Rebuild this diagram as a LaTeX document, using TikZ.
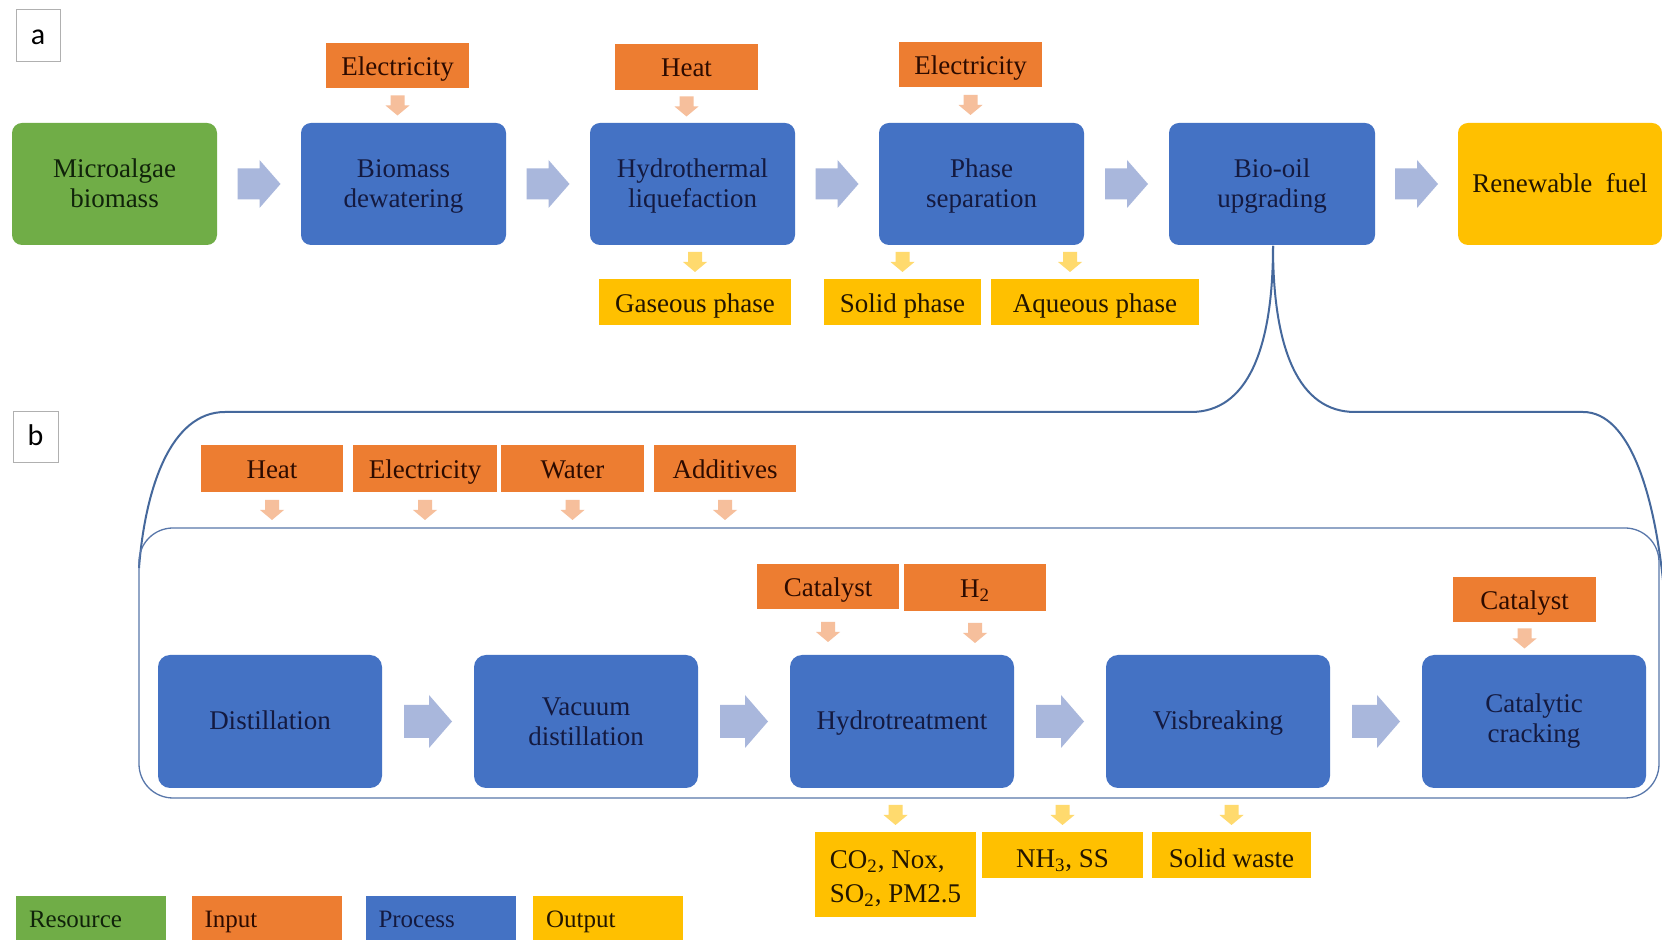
\documentclass[tikz,border=0pt]{standalone}
\usepackage{fontspec}
\setmainfont{Liberation Serif}
\newfontfamily\lblfont{Carlito}
\usetikzlibrary{calc}
\definecolor{cgreen}{HTML}{70AD47}
\definecolor{corange}{HTML}{ED7D31}
\definecolor{cblue}{HTML}{4472C4}
\definecolor{cgold}{HTML}{FFC000}
\definecolor{carrow}{HTML}{A9B7DC}
\definecolor{cinarr}{HTML}{F6BF9C}
\definecolor{coutarr}{HTML}{FFDA6E}
\definecolor{cline}{HTML}{45689C}
\definecolor{cframe}{HTML}{5877AA}
\definecolor{cnavy}{HTML}{141A40}
\definecolor{cdgreen}{HTML}{10230A}
\definecolor{cdred}{HTML}{2D0B00}
\definecolor{cdark}{HTML}{221500}
\definecolor{cgrey}{HTML}{B0B0B0}
\newcommand{\mybox}[7]{\node[#1, minimum width={(#5-#3)*0.5pt}, minimum height={(#6-#4)*0.5pt}] (#2) at ({(#3+#5)/2},{(#4+#6)/2}) {#7};}
\newcommand{\sarr}[4]{%
  \path ($(#3)!0.5!(#4)$) coordinate (sm);
  \fill[#1, shift={(#2 |- sm)}] (-7,-10) -- (7,-10) -- (7,0) -- (12,0) -- (0,10) -- (-12,0) -- (-7,0) -- cycle;}
\newcommand{\barr}[6]{%
  \path (#1.east) -- (#2.west) coordinate[pos=0.5] (bm);
  \fill[bigarr, shift={(bm)}] ({-#3/2},-#4) -- ({#3/2-#6},-#4) -- ({#3/2-#6},-#5) -- ({#3/2},0) -- ({#3/2-#6},#5) -- ({#3/2-#6},#4) -- ({-#3/2},#4) -- cycle;}
\begin{document}
\begin{tikzpicture}[x=0.5pt,y=-0.5pt,
  base/.style={inner sep=0pt, outer sep=0pt, align=center, font=\fontsize{13.5}{15}\selectfont},
  oneline/.style={text height=#1, text depth=0.24em},
  oneline/.default=1.21em,
  proc/.style={base, fill=cblue, rounded corners=5pt, text=cnavy, text depth=0.05em},
  procb/.style={base, fill=cblue, rounded corners=6pt, text=cnavy},
  res/.style={base, fill=cgreen, rounded corners=5pt, text=cdgreen, text depth=0.05em},
  fuelb/.style={base, oneline=1.06em, fill=cgold, rounded corners=5pt, text=cdark},
  inp/.style={base, oneline, fill=corange, text=cdred},
  outp/.style={base, oneline, fill=cgold, text=cdark},
  lbl/.style={inner sep=0pt, draw=cgrey, fill=white, line width=0.5pt, text height=0.95em, text depth=0.14em, font=\lblfont\fontsize{15}{17}\selectfont},
  leg/.style={inner ysep=0pt, inner xsep=6.5pt, outer sep=0pt, align=left, text width=62pt, text height=1.24em, text depth=0.24em, font=\fontsize{12.5}{14}\selectfont},
  bigarr/.style={fill=carrow},
  inarr/.style={fill=cinarr},
  outarr/.style={fill=coutarr},
  brace/.style={draw=cline, line width=1pt},
  frame/.style={draw=cframe, line width=0.65pt, rounded corners=17pt, inner sep=0pt, outer sep=0pt}]
\fill[white] (0,0) rectangle (1662,940);
\useasboundingbox (0,0) rectangle (1662,940);
% labels
\mybox{lbl}{la}{16}{10}{60}{62}{a}
\mybox{lbl}{lb}{13}{412}{58}{463}{b}
% part a processes
\mybox{res}{micro}{12}{123}{217}{245}{Microalgae\\biomass}
\mybox{proc}{dew}{301}{123}{506}{245}{Biomass\\dewatering}
\mybox{proc}{htl}{590}{123}{795}{245}{Hydrothermal\\liquefaction}
\mybox{proc}{phase}{879}{123}{1084}{245}{Phase\\separation}
\mybox{proc}{bio}{1169}{123}{1375}{245}{Bio-oil\\upgrading}
\mybox{fuelb}{fuel}{1458}{123}{1662}{245}{Renewable~~fuel}
% part a inputs / outputs
\mybox{inp}{ea}{326}{43}{469}{88}{Electricity}
\mybox{inp}{ha}{615}{44}{758}{90}{Heat}
\mybox{inp}{eb}{899}{42}{1042}{87}{Electricity}
\mybox{outp, oneline=1.3em}{gas}{599}{279}{791}{325}{Gaseous phase}
\mybox{outp, oneline=1.3em}{solid}{824}{279}{981}{325}{Solid phase}
\mybox{outp, oneline=1.3em}{aq}{991}{279}{1199}{325}{Aqueous phase}
% big arrows a
\barr{micro}{dew}{43}{15.5}{24}{21}
\barr{dew}{htl}{43}{15.5}{24}{21}
\barr{htl}{phase}{43}{15.5}{24}{21}
\barr{phase}{bio}{43}{15.5}{24}{21}
\barr{bio}{fuel}{43}{15.5}{24}{21}
% small arrows a
\coordinate (aqx) at (1070,0);
\sarr{inarr}{ea.south}{ea.south}{dew.north}
\sarr{inarr}{ha.south}{ha.south}{htl.north}
\sarr{inarr}{eb.south}{eb.south}{phase.north}
\sarr{outarr}{gas.north}{htl.south}{gas.north}
\sarr{outarr}{solid.north}{phase.south}{solid.north}
\sarr{outarr}{aqx}{phase.south}{aq.north}
% brace
\coordinate (tip) at (1273,246);
\draw[brace] (tip) .. controls (1273,350) and (1247,412) .. (1191,412) -- (225,412) .. controls (170,412) and (145,490) .. (139,568);
\draw[brace] (tip) .. controls (1273,350) and (1299,412) .. (1355,412) -- (1583,412) .. controls (1630,412) and (1655,495) .. (1664,590);
% part b frame
\mybox{frame}{inner}{139}{528}{1659}{798}{}
% part b inputs
\mybox{inp}{hb}{201}{445}{343}{492}{Heat}
\mybox{inp}{elb}{353}{445}{497}{492}{Electricity}
\mybox{inp}{wat}{501}{445}{644}{492}{Water}
\mybox{inp}{add}{654}{445}{796}{492}{Additives}
\mybox{inp}{cat1}{757}{564}{899}{609}{Catalyst}
\mybox{inp}{h2}{904}{564}{1046}{611}{H\textsubscript{2}}
\mybox{inp}{cat2}{1453}{577}{1596}{622}{Catalyst}
% part b processes
\mybox{procb, oneline=1.0em}{dist}{158}{655}{382}{788}{Distillation}
\mybox{procb}{vac}{474}{655}{698}{788}{Vacuum\\distillation}
\mybox{procb, oneline=1.0em}{hyd}{790}{655}{1014}{788}{Hydrotreatment}
\mybox{procb, oneline=1.0em}{vis}{1106}{655}{1330}{788}{Visbreaking}
\mybox{procb}{crack}{1422}{655}{1646}{788}{Catalytic\\cracking}
% part b outputs
\mybox{base, fill=cgold}{co}{815}{832}{976}{917}{}
\node[base, text=cdark, align=left, font=\fontsize{13.5}{17}\selectfont] at ([yshift=-2pt]co.center) {CO\textsubscript{2}, Nox,\\SO\textsubscript{2}, PM2.5};
\mybox{outp, oneline=1.45em}{nh}{982}{832}{1143}{878}{NH\textsubscript{3}, SS}
\mybox{outp, oneline=1.45em}{sw}{1152}{832}{1311}{878}{Solid waste}
% big arrows b
\barr{dist}{vac}{48}{16.5}{26.5}{23}
\barr{vac}{hyd}{48}{16.5}{26.5}{23}
\barr{hyd}{vis}{48}{16.5}{26.5}{23}
\barr{vis}{crack}{48}{16.5}{26.5}{23}
% small arrows b
\sarr{inarr}{hb.south}{hb.south}{inner.north}
\sarr{inarr}{elb.south}{elb.south}{inner.north}
\sarr{inarr}{wat.south}{wat.south}{inner.north}
\sarr{inarr}{add.south}{add.south}{inner.north}
\sarr{inarr}{cat1.south}{cat1.south}{hyd.north}
\sarr{inarr}{h2.south}{h2.south}{hyd.north}
\sarr{inarr}{cat2.south}{cat2.south}{crack.north}
\sarr{outarr}{co.north}{inner.south}{co.north}
\sarr{outarr}{nh.north}{inner.south}{nh.north}
\sarr{outarr}{sw.north}{inner.south}{sw.north}
% legend
\mybox{leg, fill=cgreen, text=cdgreen}{lres}{16}{896}{166}{940}{Resource}
\mybox{leg, fill=corange, text=cdred}{linp}{192}{896}{341}{940}{Input}
\mybox{leg, fill=cblue, text=cnavy}{lproc}{366}{896}{515}{940}{Process}
\mybox{leg, fill=cgold, text=cdark}{lout}{533}{896}{683}{940}{Output}
\end{tikzpicture}
\end{document}
